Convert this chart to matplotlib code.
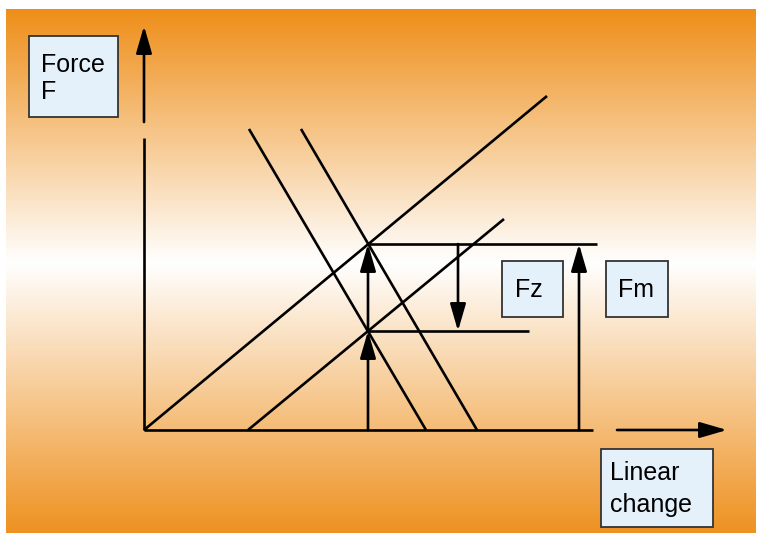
import numpy as np
import matplotlib
matplotlib.use("Agg")
import matplotlib.pyplot as plt
from matplotlib.patches import FancyArrowPatch, Rectangle

# ---- diagram data (units: pixels from origin, x = linear change, y = force) ----
force_axis_lower_y = [0, 292]
force_axis_upper_y = [308, 404]
change_axis_lower_x = [0, 449]
change_axis_upper_x = [473, 583]

char_line_1_x = [0, 403]
char_line_1_y = [0, 334]
char_line_2_x = [104, 360]
char_line_2_y = [0, 211]
counter_line_1_x = [105, 282]
counter_line_1_y = [301, 0]
counter_line_2_x = [157, 333]
counter_line_2_y = [301, 0]

point_A = (224, 186)
point_B = (224, 99)
level_A_end_x = 453
level_B_end_x = 385
fz_arrow_x = 314
fm_arrow_x = 435

labels = ["Force", "F", "Fz", "Fm", "Linear", "change"]

# ---- figure ----
W, H = 758, 535
ox, oy = 144, 430  # origin position in pixels
fig = plt.figure(figsize=(W / 100, H / 100), dpi=100)
ax = fig.add_axes([0, 0, 1, 1])
ax.set_xlim(-ox, W - ox)
ax.set_ylim(oy - H, oy)
ax.axis("off")

def px(x, y):
    return x - ox, oy - y

# gradient background
top_px, mid_px, bot_px = 9, 262, 533
orange_top = np.array([238, 142, 24]) / 255
orange_bot = np.array([238, 145, 32]) / 255
white = np.array([1.0, 1.0, 1.0])
rows = np.arange(top_px, bot_px)
grad = np.zeros((len(rows), 1, 3))
for i, r in enumerate(rows):
    if r <= mid_px:
        t = (r - top_px) / (mid_px - top_px)
        grad[i, 0] = orange_top * (1 - t) + white * t
    else:
        t = (r - mid_px) / (bot_px - mid_px)
        grad[i, 0] = white * (1 - t) + orange_bot * t
x0, _ = px(6, 0)
x1, _ = px(756, 0)
_, y0 = px(0, top_px)
_, y1 = px(0, bot_px)
ax.imshow(grad, extent=[x0, x1, y1, y0], aspect="auto", interpolation="bilinear", zorder=0)

lw = 1.9
kw = dict(color="black", lw=lw, solid_capstyle="butt", zorder=2)

# axes lines
ax.plot([0, 0], force_axis_lower_y, **kw)
ax.plot(change_axis_lower_x, [0, 0], **kw)

# characteristic lines
ax.plot(char_line_1_x, char_line_1_y, **kw)
ax.plot(char_line_2_x, char_line_2_y, **kw)
ax.plot(counter_line_1_x, counter_line_1_y, **kw)
ax.plot(counter_line_2_x, counter_line_2_y, **kw)

# horizontal levels
ax.plot([point_A[0], level_A_end_x], [point_A[1], point_A[1]], **kw)
ax.plot([point_B[0], level_B_end_x], [point_B[1], point_B[1]], **kw)

def arrow(p0, p1):
    a = FancyArrowPatch(p0, p1, arrowstyle="-|>,head_length=1.65,head_width=0.48",
                        mutation_scale=10, color="black", lw=lw,
                        shrinkA=0, shrinkB=0, zorder=3)
    ax.add_patch(a)

arrow((0, force_axis_upper_y[0]), (0, force_axis_upper_y[1]))
arrow((change_axis_upper_x[0], 0), (change_axis_upper_x[1], 0))
arrow((point_A[0], 0), point_B)
arrow(point_B, point_A)
arrow((fz_arrow_x, point_A[1]), (fz_arrow_x, point_B[1]))
arrow((fm_arrow_x, 0), (fm_arrow_x, point_A[1]))

# label boxes
box_fc = "#E4F1FB"
box_ec = "#333333"

def box(xl, yt, xr, yb):
    xa, ya = px(xl, yb)
    ax.add_patch(Rectangle((xa, ya), xr - xl, yb - yt, facecolor=box_fc,
                           edgecolor=box_ec, lw=1.3, zorder=4))

box(29, 36, 118, 117)
box(502, 261, 563, 317)
box(606, 261, 668, 317)
box(601, 449, 713, 527)

tkw = dict(fontsize=18, family=["Liberation Sans", "DejaVu Sans"], color="black",
           ha="left", va="baseline", zorder=5)
ax.text(*px(41, 72), labels[0], **tkw)
ax.text(*px(41, 99), labels[1], **tkw)
ax.text(*px(515, 297), labels[2], **tkw)
ax.text(*px(618, 297), labels[3], **tkw)
ax.text(*px(610, 480), labels[4], **tkw)
ax.text(*px(610, 512), labels[5], **tkw)

fig.savefig("out.png", dpi=100, facecolor="white")
